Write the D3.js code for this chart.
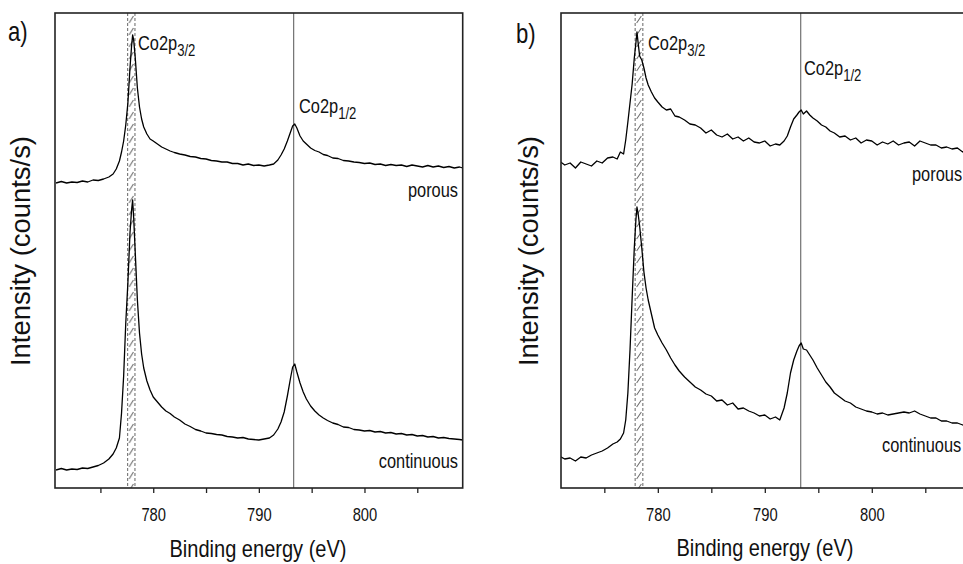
<!DOCTYPE html>
<html>
<head>
<meta charset="utf-8">
<script src="https://cdn.jsdelivr.net/npm/d3@7"></script>
<style>
  html, body { margin: 0; padding: 0; background: #fff; }
  svg { display: block; }
  text { font-family: "Liberation Sans", Arial, sans-serif; fill: #111; }
</style>
</head>
<body>
<svg id="chart" width="963" height="564"></svg>
<script>
// ---- Data (binding energy in eV; intensity in arbitrary units, stacked offsets) ----
const energy = [
  770.8, 771.3, 771.8, 772.3, 772.8, 773.3, 773.8, 774.3, 774.8, 775.3,
  775.8, 776.2, 776.5, 776.8, 777.0, 777.2, 777.4, 777.6, 777.8, 777.95,
  778.05, 778.15, 778.3, 778.5, 778.7, 778.9, 779.1, 779.4, 779.7, 780.0,
  780.4, 780.8, 781.2, 781.6, 782.0, 782.5, 783.0, 783.5, 784.0, 784.5,
  785.0, 785.5, 786.0, 786.5, 787.0, 787.5, 788.0, 788.5, 789.0, 789.5,
  790.0, 790.5, 791.0, 791.4, 791.8, 792.1, 792.4, 792.7, 793.0, 793.2,
  793.4, 793.6, 793.9, 794.2, 794.5, 794.9, 795.3, 795.7, 796.1, 796.5,
  797.0, 797.5, 798.0, 798.5, 799.0, 799.5, 800.0, 800.5, 801.0, 801.5,
  802.0, 802.5, 803.0, 803.5, 804.0, 804.5, 805.0, 805.5, 806.0, 806.5,
  807.0, 807.5, 808.0, 808.5, 809.0, 809.3
];

// Panel a)
const porousA = [
  305, 306.5, 305, 306, 305.5, 307, 306, 308, 307.5, 309,
  311, 314, 319, 327, 336, 347, 363, 385, 420, 442,
  453, 448, 430, 400, 381, 369, 361, 354, 349, 347,
  344, 341, 339, 337, 335.5, 334, 333, 331.5, 331, 329.5,
  329, 327.5, 327, 326, 326, 324.5, 324.5, 323, 324, 322.5,
  323, 322, 323, 324, 328, 333, 339, 347, 356, 362,
  364, 360, 352, 347, 344, 340, 337.5, 336, 333.5, 332.5,
  330, 329.5, 327.5, 327, 326, 325.5, 324.5, 325, 323.5, 324,
  322.5, 323.5, 322.5, 323, 321.5, 323, 322, 321, 322.5, 321,
  322, 320.5, 321.5, 320, 321, 320
];
const continuousA = [
  18, 19.5, 18, 19, 18.5, 20, 19.5, 21, 22.5, 25,
  29, 34, 40, 50, 75, 112, 165, 205, 255, 278,
  288, 270, 235, 188, 155, 134, 120, 107, 98, 91,
  86, 81, 77, 74.5, 71, 68, 64, 61.5, 58.5, 57,
  55, 54.5, 53.5, 53, 51.5, 51, 50, 50.5, 49, 48.5,
  48, 49, 50, 53, 59, 66, 76, 92, 110, 121,
  124, 116, 105, 96, 89, 82, 77, 73, 70, 67.5,
  65, 63.5, 61, 60.5, 58.5, 58, 57, 57.5, 56, 56.5,
  55, 55.5, 54, 54.5, 53, 53.5, 52, 52.5, 51, 51.5,
  50, 50.5, 49.5, 49, 48.5, 48
];

// Panel b)
const porousB = [
  327, 323, 325, 320, 326, 324, 322, 327, 325, 330,
  331, 329, 336, 334, 348, 366, 385, 404, 430, 445,
  456, 446, 432, 428, 420, 410, 403, 396, 390, 386,
  381, 378, 379, 372, 371, 368, 364, 363, 360, 355,
  358, 353, 351, 354, 349, 351, 347, 350, 346, 345,
  347, 342, 344, 343, 347, 352, 361, 369, 373, 376,
  378, 374, 377, 373, 370, 367, 363, 361, 357, 355,
  351, 352, 348, 350, 345, 348, 347, 343, 346, 344,
  347, 343, 345, 346, 342, 347, 345, 343, 343, 340,
  341, 339, 340, 336, 339, 337
];
const continuousB = [
  32, 29, 30, 27, 31, 30, 33, 35, 37, 40,
  44, 46, 49, 55, 68, 95, 138, 190, 240, 268,
  281, 275, 262, 240, 216, 200, 188, 174, 160, 153,
  145, 138, 130, 123, 117, 111, 106, 101, 98, 94,
  92, 87, 88, 83, 85, 79, 80, 77, 75, 72,
  73, 69, 71, 68, 80, 95, 115, 128, 137, 142,
  145, 139, 138, 133, 128, 120, 113, 106, 101, 95,
  91, 87, 85, 81, 79, 77, 76, 74, 75, 73,
  74, 75, 76, 75, 77, 74, 72, 70, 70, 67,
  67, 65, 65, 63, 63, 62
];

const xTickValues = [775, 780, 785, 790, 795, 800, 805];
const xTickLabels = ["780", "790", "800"];
const bandA = [777.58, 778.27];
const bandB = [777.88, 778.60];
const markLineA = 793.3;
const markLineB = 793.36;

// ---- Drawing ----
const svg = d3.select("#chart");
const defs = svg.append("defs");
const NARROW = 0.82; // horizontal condensing to mimic a narrow typeface

function addText(parent, x, y, str, size, anchor) {
  return parent.append("text")
    .attr("transform", `translate(${x},${y}) scale(${NARROW},1)`)
    .attr("text-anchor", anchor || "start")
    .attr("font-size", size)
    .text(str);
}

const panels = [
  { id: "a", letter: "a)", left: 55, right: 462.7, domain: [770.7, 809.3],
    porous: porousA, continuous: continuousA, band: bandA, mark: markLineA,
    letterX: 8, letterY: 41,
    p32: [138, 50], p12: [299, 113],
    porousLbl: { x: 458, y: 197, anchor: "end" },
    contLbl: { x: 458, y: 468, anchor: "end" },
    yLabelX: 30, xLabelX: 258, xLabelY: 557 },
  { id: "b", letter: "b)", left: 561, right: 971.3, domain: [770.95, 809.3],
    porous: porousB, continuous: continuousB, band: bandB, mark: markLineB,
    letterX: 516, letterY: 43,
    p32: [648, 50], p12: [804, 75],
    porousLbl: { x: 912, y: 181, anchor: "start" },
    contLbl: { x: 882, y: 452, anchor: "start" },
    yLabelX: 538, xLabelX: 765, xLabelY: 556 }
];

const plotTop = 13, plotBottom = 488;
const y = d3.scaleLinear().domain([0, 475]).range([plotBottom, plotTop]);

panels.forEach(p => {
  const x = d3.scaleLinear().domain(p.domain).range([p.left, p.right]);
  const g = svg.append("g");

  defs.append("clipPath").attr("id", "clip-" + p.id)
    .append("rect").attr("x", p.left).attr("y", plotTop)
    .attr("width", p.right - p.left).attr("height", plotBottom - plotTop);

  // hatched band
  const bx0 = x(p.band[0]), bx1 = x(p.band[1]);
  const bw = bx1 - bx0;
  const pat = defs.append("pattern").attr("id", "hatch-" + p.id)
    .attr("patternUnits", "userSpaceOnUse")
    .attr("x", bx0).attr("y", plotTop).attr("width", bw).attr("height", 12);
  pat.append("path")
    .attr("d", `M${bw * 0.2},10 L${bw * 0.8},3`)
    .attr("stroke", "#666").attr("stroke-width", 1).attr("fill", "none");
  g.append("rect").attr("x", bx0).attr("y", plotTop)
    .attr("width", bw).attr("height", plotBottom - plotTop)
    .attr("fill", `url(#hatch-${p.id})`);
  p.band.forEach(e => {
    g.append("line").attr("x1", x(e)).attr("x2", x(e))
      .attr("y1", plotTop).attr("y2", plotBottom)
      .attr("stroke", "#666").attr("stroke-width", 1)
      .attr("stroke-dasharray", "3,2");
  });

  // solid marker line
  g.append("line").attr("x1", x(p.mark)).attr("x2", x(p.mark))
    .attr("y1", plotTop).attr("y2", plotBottom)
    .attr("stroke", "#555").attr("stroke-width", 1);

  // spectra
  const line = d3.line().x(d => x(d[0])).y(d => y(d[1]));
  [p.porous, p.continuous].forEach(series => {
    const n = Math.min(energy.length, series.length);
    const data = energy.slice(0, n).map((e, i) => [e, series[i]]);
    g.append("path").datum(data)
      .attr("clip-path", `url(#clip-${p.id})`)
      .attr("d", line)
      .attr("fill", "none").attr("stroke", "#000")
      .attr("stroke-width", 1.3).attr("stroke-linejoin", "round");
  });

  // frame
  g.append("rect").attr("x", p.left).attr("y", plotTop)
    .attr("width", p.right - p.left).attr("height", plotBottom - plotTop)
    .attr("fill", "none").attr("stroke", "#222").attr("stroke-width", 1.6);

  // x axis
  const ax = g.append("g").attr("transform", `translate(0,${plotBottom})`)
    .call(d3.axisBottom(x).tickValues(xTickValues).tickSize(5).tickPadding(15)
      .tickFormat(d => xTickLabels.includes(String(d)) ? String(d) : ""));
  ax.select(".domain").remove();
  ax.selectAll(".tick line").attr("stroke", "#222").attr("stroke-width", 1.3);
  ax.selectAll(".tick text").attr("font-size", 18).attr("fill", "#111")
    .attr("transform", `scale(${NARROW},1)`)
    .style("font-family", '"Liberation Sans", Arial, sans-serif');

  // axis titles
  g.append("text").attr("x", p.xLabelX)
    .attr("y", p.xLabelY).attr("text-anchor", "middle")
    .attr("font-size", 24).attr("textLength", 177).attr("lengthAdjust", "spacingAndGlyphs")
    .text("Binding energy (eV)");
  g.append("text")
    .attr("transform", `translate(${p.yLabelX},${251}) rotate(-90)`)
    .attr("text-anchor", "middle").attr("font-size", 27)
    .attr("textLength", 230).attr("lengthAdjust", "spacingAndGlyphs")
    .text("Intensity (counts/s)");

  // panel letter
  addText(g, p.letterX, p.letterY, p.letter, 27);

  // peak labels
  const peakLabel = (pos, sub) => {
    const t = addText(g, pos[0], pos[1], "", 20);
    t.append("tspan").text("Co2p");
    t.append("tspan").attr("dy", 6).attr("font-size", 16).text(sub);
  };
  peakLabel(p.p32, "3/2");
  peakLabel(p.p12, "1/2");

  // series labels
  addText(g, p.porousLbl.x, p.porousLbl.y, "porous", 20, p.porousLbl.anchor);
  addText(g, p.contLbl.x, p.contLbl.y, "continuous", 20, p.contLbl.anchor);
});
</script>
</body>
</html>
